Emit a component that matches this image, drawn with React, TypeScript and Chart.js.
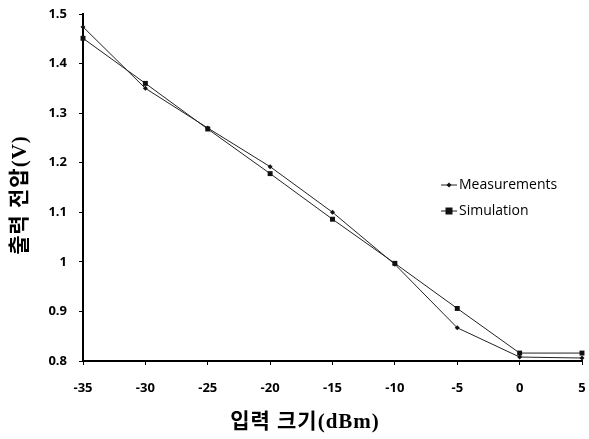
import React, { useEffect, useRef } from 'react';
import { Chart, registerables } from 'chart.js';

Chart.register(...registerables);

const inputDbm = [-35, -30, -25, -20, -15, -10, -5, 0, 5];
const measurements = [1.474, 1.35, 1.27, 1.192, 1.1, 0.995, 0.867, 0.808, 0.806];
const simulation = [1.451, 1.36, 1.268, 1.178, 1.086, 0.997, 0.906, 0.816, 0.816];
const yTickLabels = ['0.8', '0.9', '1', '1.1', '1.2', '1.3', '1.4', '1.5'];
const xTickLabels = ['-35', '-30', '-25', '-20', '-15', '-10', '-5', '0', '5'];
const seriesLabels = ['Measurements', 'Simulation'];
const xTitle = '입력 크기(dBm)';
const yTitle = '출력 전압(V)';

const titleFont = "bold 21px 'Liberation Serif', 'Noto Sans CJK KR', serif";
const tickFont = { family: "'Open Sans', 'DejaVu Sans', sans-serif", size: 13, weight: 'bold' as const };

const overlayPlugin = {
  id: 'overlay',
  afterDraw(chart: any) {
    const { ctx, chartArea } = chart;
    ctx.save();
    // axis titles
    ctx.fillStyle = '#000';
    ctx.font = titleFont;
    try {
      ctx.letterSpacing = '1px';
    } catch (e) {
      /* ignore */
    }
    ctx.textAlign = 'center';
    ctx.textBaseline = 'middle';
    ctx.fillText(xTitle, 305, 423);
    ctx.translate(21, 195);
    ctx.rotate(-Math.PI / 2);
    ctx.fillText(yTitle, 0, 0);
    ctx.restore();

    // legend
    ctx.save();
    const lx = chartArea.left + 358;
    chart.data.datasets.forEach((ds: any, i: number) => {
      const y = 185 + i * 26;
      ctx.strokeStyle = ds.borderColor;
      ctx.lineWidth = 1;
      ctx.beginPath();
      ctx.moveTo(lx, y);
      ctx.lineTo(lx + 16, y);
      ctx.stroke();
      ctx.fillStyle = '#111';
      const cx = lx + 8;
      const r = ds.pointRadius;
      ctx.beginPath();
      if (ds.pointStyle === 'rect') {
        ctx.rect(cx - r, y - r, 2 * r, 2 * r);
      } else {
        ctx.moveTo(cx, y - r);
        ctx.lineTo(cx + r, y);
        ctx.lineTo(cx, y + r);
        ctx.lineTo(cx - r, y);
        ctx.closePath();
      }
      ctx.fill();
      ctx.fillStyle = '#000';
      ctx.font = "14px 'Open Sans', 'DejaVu Sans', sans-serif";
      ctx.textAlign = 'left';
      ctx.textBaseline = 'middle';
      ctx.fillText(ds.label, lx + 18, y);
    });
    ctx.restore();
  },
};

export default function App() {
  const ref = useRef<HTMLCanvasElement | null>(null);

  useEffect(() => {
    if (!ref.current) return;
    const chart = new Chart(ref.current, {
      type: 'line',
      data: {
        datasets: [
          {
            label: seriesLabels[0],
            data: inputDbm.map((x, i) => ({ x, y: measurements[i] })),
            borderColor: '#222',
            backgroundColor: '#111',
            borderWidth: 1,
            pointStyle: 'rectRot',
            pointRadius: 2.5,
            pointBorderWidth: 0,
            tension: 0,
            clip: false,
          },
          {
            label: seriesLabels[1],
            data: inputDbm.map((x, i) => ({ x, y: simulation[i] })),
            borderColor: '#222',
            backgroundColor: '#111',
            borderWidth: 1,
            pointStyle: 'rect',
            pointRadius: 3.5,
            pointBorderWidth: 0,
            tension: 0,
            clip: false,
          },
        ] as any,
      },
      options: {
        animation: false,
        responsive: false,
        layout: { padding: { top: 14, right: 7, left: 0, bottom: 0 } },
        plugins: { legend: { display: false }, tooltip: { enabled: false } },
        scales: {
          x: {
            type: 'linear',
            min: -35,
            max: 5,
            ticks: {
              stepSize: 5,
              font: tickFont,
              color: '#000',
              padding: 15,
              callback: (_v: any, i: number) => xTickLabels[i],
            },
            grid: { drawOnChartArea: false, drawTicks: true, tickLength: 4, color: '#000' },
            border: { display: true, color: '#000', width: 2 },
            afterFit: (s: any) => {
              s.height = 78;
              s.paddingLeft = 0;
              s.paddingRight = 0;
            },
          },
          y: {
            type: 'linear',
            min: 0.8,
            max: 1.5,
            ticks: {
              stepSize: 0.1,
              font: tickFont,
              color: '#000',
              padding: 12,
              callback: (_v: any, i: number) => yTickLabels[i],
            },
            grid: { drawOnChartArea: false, drawTicks: true, tickLength: 4, color: '#000' },
            border: { display: true, color: '#000', width: 2 },
            afterFit: (s: any) => {
              s.width = 83;
              s.paddingTop = 0;
              s.paddingBottom = 0;
            },
          },
        },
      },
      plugins: [overlayPlugin],
    });
    return () => chart.destroy();
  }, []);

  return (
    <div style={{ position: 'absolute', left: 0, top: 0, width: 589, height: 439, background: '#fff' }}>
      <canvas ref={ref} width={589} height={439} style={{ display: 'block' }} />
    </div>
  );
}
